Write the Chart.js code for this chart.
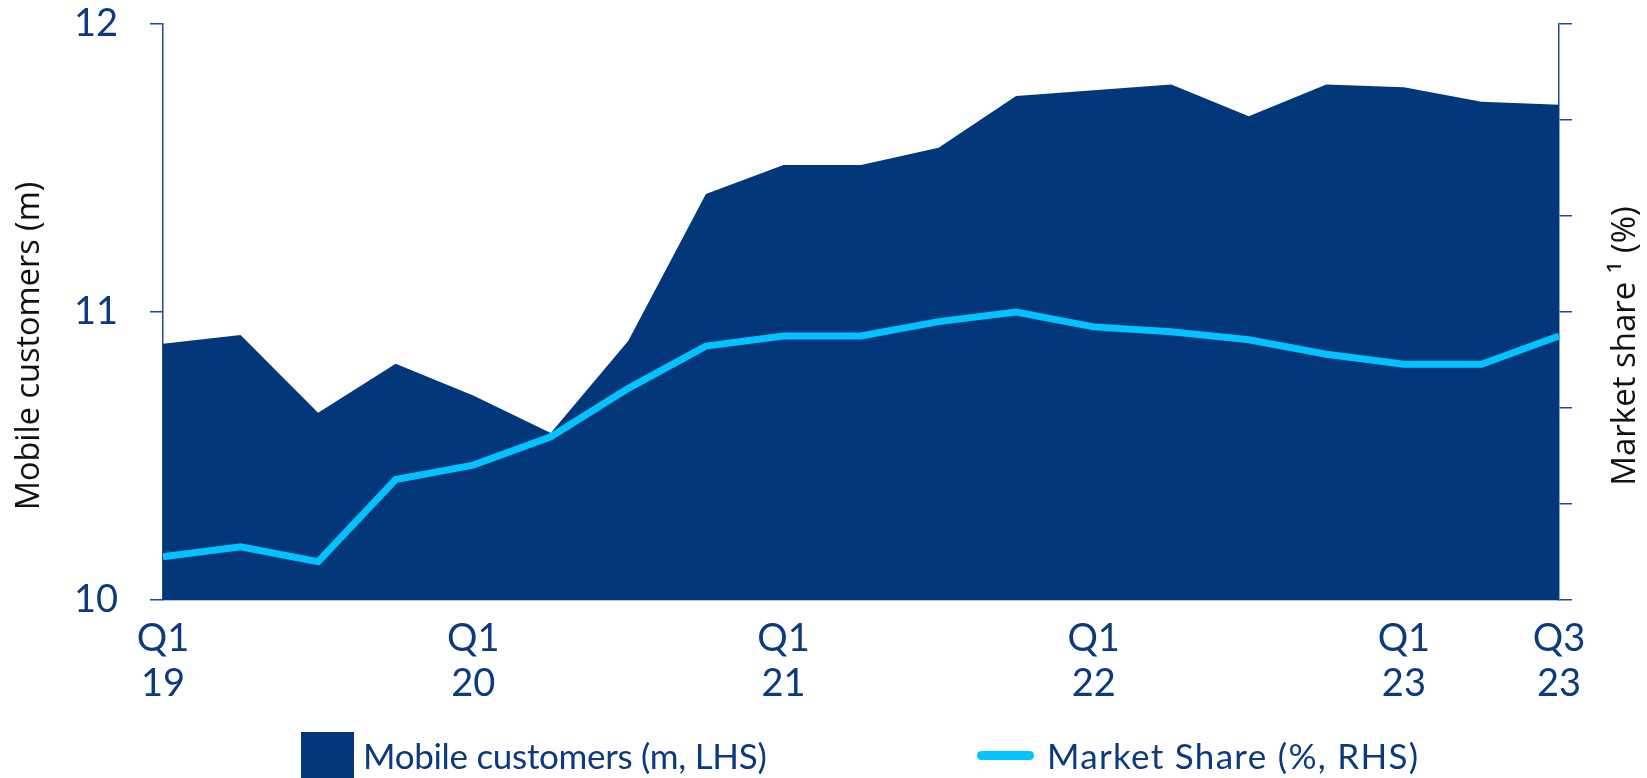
<!DOCTYPE html>
<html>
<head>
<meta charset="utf-8">
<script src="https://cdn.jsdelivr.net/npm/chart.js@4.4.1/dist/chart.umd.min.js"></script>
<style>
  html, body { margin: 0; padding: 0; background: #ffffff; }
  #wrap { position: relative; width: 1647px; height: 778px; overflow: hidden; }
  #c { position: absolute; left: 0; top: 0; }
  .lg { position: absolute; font-family: Lato, "Open Sans", sans-serif; font-size: 35px; color: #0b3a7e; white-space: nowrap; line-height: 1; }
  #box1 { position: absolute; left: 301px; top: 732px; width: 53px; height: 50px; background: #02377a; }
  #line2 { position: absolute; left: 977px; top: 751px; width: 57px; height: 9px; border-radius: 5px; background: #00c3ff; }
</style>
</head>
<body>
<div id="wrap">
  <canvas id="c" width="1647" height="778"></canvas>
  <div id="box1"></div>
  <div class="lg" id="t1" style="left:363px; top:738px; letter-spacing:-0.3px;">Mobile customers (m, LHS)</div>
  <div id="line2"></div>
  <div class="lg" id="t2" style="left:1047px; top:738px; letter-spacing:1.3px;">Market Share (%, RHS)</div>
</div>
<script>
// ---- data ----
const quarters = ['Q1 19','Q2 19','Q3 19','Q4 19','Q1 20','Q2 20','Q3 20','Q4 20','Q1 21','Q2 21','Q3 21','Q4 21','Q1 22','Q2 22','Q3 22','Q4 22','Q1 23','Q2 23','Q3 23'];
const labeledQuarters = ['Q1 19','Q1 20','Q1 21','Q1 22','Q1 23','Q3 23'];
const mobileCustomers = [10.89, 10.92, 10.65, 10.82, 10.71, 10.58, 10.90, 11.41, 11.51, 11.51, 11.57, 11.75, 11.77, 11.79, 11.68, 11.79, 11.78, 11.73, 11.72];
const marketShare = [20.90, 21.11, 20.80, 22.51, 22.81, 23.40, 24.41, 25.29, 25.50, 25.50, 25.80, 26.00, 25.69, 25.59, 25.42, 25.12, 24.91, 24.91, 25.50];
const leftTicks = [10, 11, 12];
const leftTitle = 'Mobile customers (m)';
const rightTitle = 'Market share \u00B9 (%)';

const navy = '#02377a';
const cyan = '#00c3ff';
const tickColor = '#0b3a7e';
const axisColor = '#1f4d8f';

const titlePlugin = {
  id: 'axisTitles',
  afterDraw(chart) {
    const ctx = chart.ctx;
    const draw = (text, x, y, size) => {
      ctx.save();
      ctx.fillStyle = '#111111';
      ctx.font = size + 'px "Open Sans", sans-serif';
      ctx.textAlign = 'center';
      ctx.textBaseline = 'middle';
      ctx.translate(x, y);
      ctx.rotate(-Math.PI / 2);
      ctx.fillText(text, 0, 0);
      ctx.restore();
    };
    draw(leftTitle, 30, 346, 32.5);
    draw(rightTitle, 1626, 346, 33);
  }
};

new Chart(document.getElementById('c'), {
  type: 'line',
  data: {
    labels: quarters,
    datasets: [
      {
        label: 'Market Share (%, RHS)',
        data: marketShare,
        yAxisID: 'y2',
        borderColor: cyan,
        borderWidth: 7,
        pointRadius: 0,
        tension: 0,
        fill: false,
        borderJoinStyle: 'miter',
        order: 0
      },
      {
        label: 'Mobile customers (m, LHS)',
        data: mobileCustomers,
        yAxisID: 'y',
        borderColor: navy,
        borderWidth: 0,
        backgroundColor: navy,
        pointRadius: 0,
        tension: 0,
        fill: 'start',
        order: 1
      }
    ]
  },
  options: {
    responsive: false,
    animation: false,
    layout: { padding: { top: 24, left: 0, right: 0, bottom: 0 } },
    plugins: { legend: { display: false }, tooltip: { enabled: false } },
    scales: {
      x: {
        offset: false,
        grid: { display: false, drawTicks: false },
        border: { display: true, color: '#6d8fc2', width: 1.5 },
        ticks: {
          autoSkip: false,
          maxRotation: 0,
          padding: 16,
          color: tickColor,
          font: { family: 'Lato', size: 38, lineHeight: 1.18 },
          callback: function(v, i) {
            const q = quarters[i];
            return labeledQuarters.includes(q) ? q.split(' ') : '';
          }
        },
        afterFit(s) { s.height = 178; s.paddingLeft = 0; s.paddingRight = 0; }
      },
      y: {
        position: 'left',
        min: 10, max: 12,
        afterBuildTicks(s) { s.ticks = leftTicks.map(v => ({ value: v })); },
        grid: { drawOnChartArea: false, drawTicks: true, tickLength: 13, color: axisColor, lineWidth: 1.5 },
        border: { display: true, color: axisColor, width: 1.5 },
        ticks: { padding: 32, color: tickColor, font: { family: 'Lato', size: 38 } },
        afterFit(s) { s.width = 163; s.paddingTop = 0; s.paddingBottom = 0; }
      },
      y2: {
        position: 'right',
        min: 20, max: 32,
        ticks: { stepSize: 2, callback: () => '', padding: 0, font: { size: 10 } },
        grid: { drawOnChartArea: false, drawTicks: true, tickLength: 13, color: axisColor, lineWidth: 1.5 },
        border: { display: true, color: axisColor, width: 1.5 },
        afterFit(s) { s.width = 88; s.paddingTop = 0; s.paddingBottom = 0; }
      }
    }
  },
  plugins: [titlePlugin]
});
</script>
</body>
</html>
